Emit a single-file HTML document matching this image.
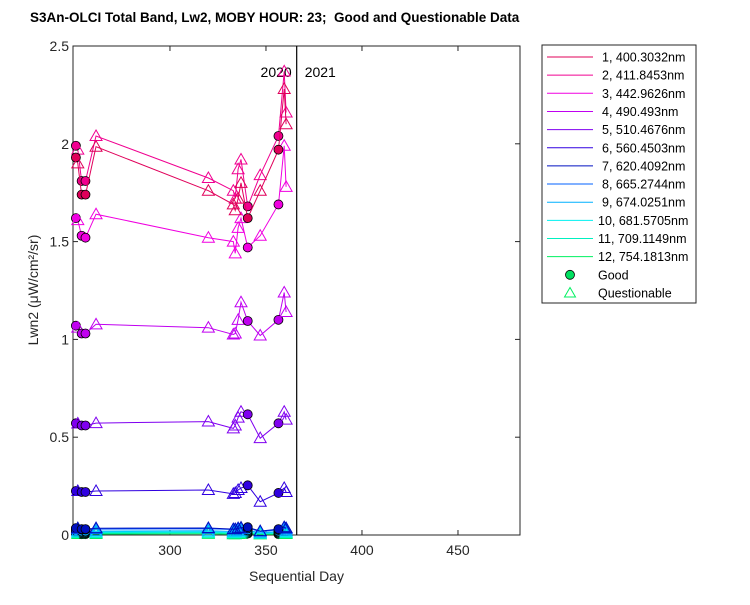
<!DOCTYPE html>
<html><head><meta charset="utf-8"><style>
body{margin:0;background:#fff;}
svg text{font-family:"Liberation Sans",sans-serif;}
</style></head><body>
<svg id="chart" width="750" height="600" xmlns="http://www.w3.org/2000/svg">
<rect width="750" height="600" fill="#fff"/>
<text x="30" y="22" font-size="13.5" font-weight="bold">S3An-OLCI Total Band, Lw2, MOBY HOUR: 23;&#160; Good and Questionable Data</text>
<g id="axes"></g>
<g id="series"></g>
<g id="legend"></g>
</svg>
<script>
const days = [251, 252, 254, 256, 261.5, 320, 333, 334, 335.5, 337, 340.5, 347, 356.5, 359.5, 360.5];
const quality = ['G','Q','G','G','Q','Q','Q','Q','Q','Q','G','Q','G','Q','Q'];
const s1 = [1.93, 1.90, 1.74, 1.74, 1.985, 1.76, 1.69, 1.66, 1.72, 1.80, 1.62, 1.76, 1.97, 2.28, 2.10];
const s2 = [1.99, 1.97, 1.81, 1.81, 2.04, 1.825, 1.76, 1.72, 1.87, 1.92, 1.68, 1.84, 2.04, 2.37, 2.16];
const s3 = [1.62, 1.61, 1.53, 1.52, 1.64, 1.52, 1.50, 1.44, 1.57, 1.62, 1.47, 1.53, 1.69, 1.99, 1.78];
const s4 = [1.07, 1.06, 1.03, 1.03, 1.077, 1.06, 1.025, 1.03, 1.10, 1.19, 1.094, 1.02, 1.10, 1.24, 1.14];
const s5 = [0.571, 0.57, 0.56, 0.56, 0.572, 0.58, 0.545, 0.56, 0.60, 0.63, 0.617, 0.495, 0.571, 0.63, 0.59];
const s6 = [0.225, 0.225, 0.22, 0.22, 0.225, 0.23, 0.21, 0.215, 0.23, 0.24, 0.254, 0.17, 0.215, 0.24, 0.22];
const s7 = [0.035, 0.035, 0.03, 0.03, 0.035, 0.036, 0.03, 0.03, 0.035, 0.038, 0.04, 0.02, 0.03, 0.04, 0.035];
const s8 = [0.03, 0.03, 0.028, 0.028, 0.03, 0.032, 0.028, 0.028, 0.03, 0.032, 0.034, 0.018, 0.026, 0.035, 0.03];
const s9 = [0.02, 0.02, 0.018, 0.018, 0.02, 0.022, 0.018, 0.018, 0.02, 0.022, 0.024, 0.012, 0.018, 0.025, 0.02];
const s10 = [0.015, 0.015, 0.013, 0.013, 0.015, 0.016, 0.013, 0.013, 0.015, 0.016, 0.018, 0.009, 0.013, 0.018, 0.015];
const s11 = [0.01, 0.01, 0.009, 0.009, 0.01, 0.011, 0.009, 0.009, 0.01, 0.011, 0.012, 0.006, 0.009, 0.012, 0.01];
const s12 = [0.005, 0.005, 0.004, 0.004, 0.005, 0.006, 0.004, 0.004, 0.005, 0.006, 0.007, 0.003, 0.004, 0.007, 0.005];
const seriesValues = [s1,s2,s3,s4,s5,s6,s7,s8,s9,s10,s11,s12];
const seriesNames = ['1, 400.3032nm','2, 411.8453nm','3, 442.9626nm','4,  490.493nm','5, 510.4676nm','6, 560.4503nm','7, 620.4092nm','8, 665.2744nm','9, 674.0251nm','10, 681.5705nm','11, 709.1149nm','12, 754.1813nm'];
const seriesColors = ['#e0005a','#f00090','#f000e0','#c000f0','#8000f0','#3000e0','#0010c0','#0060ff','#00b0ff','#00f0f0','#00f0c0','#00f060'];
const xTicks = [300,350,400,450];
const yTicks = [0,0.5,1,1.5,2,2.5];
const yTickLabels = ['0','0.5','1','1.5','2','2.5'];
const yearBoundary = 366;

const L=73,R=520,T=46,B=535, X0=249.5, X1=482.3, Y0=0, Y1=2.5;
const xs = d => L + (d-X0)/(X1-X0)*(R-L);
const ys = v => B - (v-Y0)/(Y1-Y0)*(B-T);
const NS='http://www.w3.org/2000/svg';
function mk(tag, attrs, parent){const e=document.createElementNS(NS,tag);for(const k in attrs)e.setAttribute(k,attrs[k]);parent.appendChild(e);return e;}
const axes=document.getElementById('axes'), sg=document.getElementById('series'), lg=document.getElementById('legend');

let box=mk('rect',{x:L,y:T,width:R-L,height:B-T,fill:'none',stroke:'#262626','stroke-width':1},axes);


xTicks.forEach(t=>{const x=xs(t);
 mk('line',{x1:x,x2:x,y1:B,y2:B-5,stroke:'#262626'},axes);
 mk('line',{x1:x,x2:x,y1:T,y2:T+5,stroke:'#262626'},axes);
 const tx=mk('text',{x:x,y:B+20,'font-size':14,'text-anchor':'middle',fill:'#262626'},axes);tx.textContent=t;
 
 
});
yTicks.forEach((t,i)=>{const y=ys(t);
 mk('line',{x1:L,x2:L+5,y1:y,y2:y,stroke:'#262626'},axes);
 mk('line',{x1:R,x2:R-5,y1:y,y2:y,stroke:'#262626'},axes);
 const tx=mk('text',{x:L-4,y:y+5,'font-size':14,'text-anchor':'end',fill:'#262626'},axes);tx.textContent=yTickLabels[i];
 
 
});
let xl=mk('text',{x:(L+R)/2,y:581,'font-size':14,'text-anchor':'middle',fill:'#262626'},axes);xl.textContent='Sequential Day';


let yl=mk('text',{x:0,y:0,'font-size':14,'text-anchor':'middle',fill:'#262626',transform:'translate(38,290) rotate(-90)'},axes);yl.textContent='Lwn2 (μW/cm²/sr)';


const vx=xs(yearBoundary);
let vl=mk('line',{x1:vx,x2:vx,y1:T,y2:B,stroke:'#000','stroke-width':1.2},axes);


let y20=mk('text',{x:vx-5,y:77,'font-size':14,'text-anchor':'end'},axes);y20.textContent='2020';


let y21=mk('text',{x:vx+8,y:77,'font-size':14},axes);y21.textContent='2021';



for(let s=seriesValues.length-1;s>=0;s--){
 const vals=seriesValues[s], c=seriesColors[s];
 const g=mk('g',{},sg);
 
 
 const pts=days.map((d,i)=>xs(d).toFixed(1)+','+ys(vals[i]).toFixed(1)).join(' ');
 mk('polyline',{points:pts,fill:'none',stroke:c,'stroke-width':1},g);
 days.forEach((d,i)=>{const x=xs(d),y=ys(vals[i]);
  if(quality[i]==='G'){const m=mk('circle',{cx:x,cy:y,r:4.5,fill:c,stroke:'#000','stroke-width':0.8},g);
   
   }
  else{const m=mk('polygon',{points:`${x},${y-6} ${x-6},${y+4.5} ${x+6},${y+4.5}`,fill:'none',stroke:c,'stroke-width':1},g);
   
   }
 });
}

let lb=mk('rect',{x:542,y:45,width:154,height:258,fill:'#fff',stroke:'#262626','stroke-width':1},lg);


seriesNames.forEach((n,i)=>{const y=57+18.15*i;
 const g=mk('g',{},lg);
 
 
 mk('line',{x1:547,x2:593,y1:y,y2:y,stroke:seriesColors[i],'stroke-width':1},g);
 const t=mk('text',{x:i>=9?598:602,y:y+4.5,'font-size':12.5,fill:'#000'},g);t.textContent=n;
});
{const y=57+18.15*12;
 const g=mk('g',{},lg);
 
 
 mk('circle',{cx:570,cy:y,r:4.5,fill:'#00e060',stroke:'#000','stroke-width':0.8},g);
 const t=mk('text',{x:598,y:y+4.5,'font-size':12.5},g);t.textContent='Good';
 const y2=57+18.15*13;
 const g2=mk('g',{},lg);
 
 
 mk('polygon',{points:`570,${y2-5.5} 564.5,${y2+4} 575.5,${y2+4}`,fill:'none',stroke:'#00f060'},g2);
 const t2=mk('text',{x:598,y:y2+4.5,'font-size':12.5},g2);t2.textContent='Questionable';
}
</script>
</body></html>
